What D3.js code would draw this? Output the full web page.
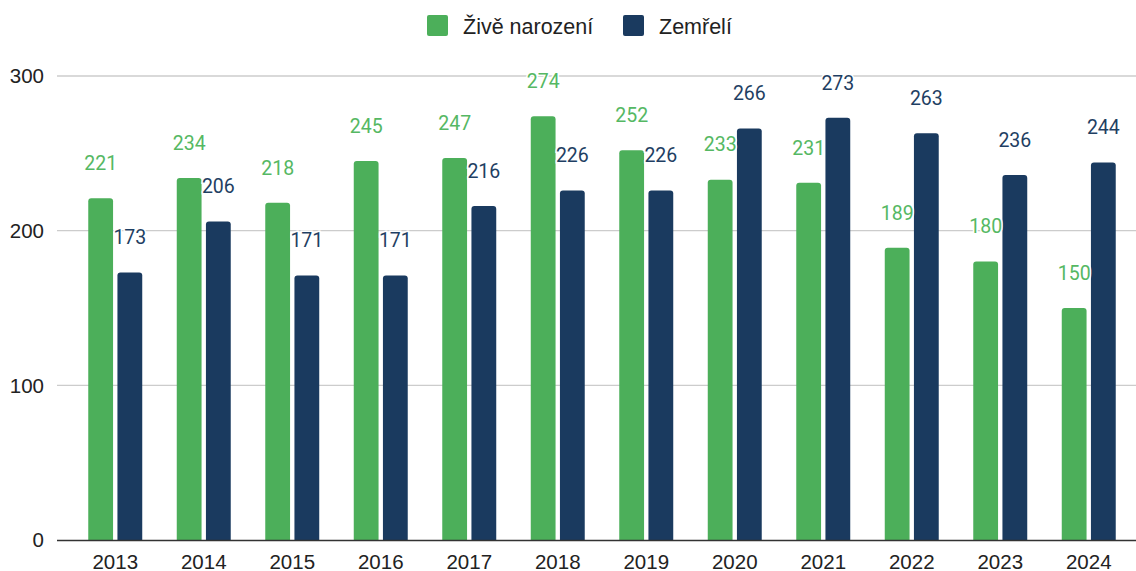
<!DOCTYPE html>
<html>
<head>
<meta charset="utf-8">
<script src="https://cdn.jsdelivr.net/npm/d3@7"></script>
<style>
  body { margin: 0; background: #fff; }
  text { font-family: "Liberation Sans", Arial, sans-serif; }
  text.val { font-family: Roboto, "Noto Sans", sans-serif; }
</style>
</head>
<body>
<script>
const width = 1136,
      height = 571;

// data
const years = ["2013", "2014", "2015", "2016", "2017", "2018", "2019", "2020", "2021", "2022", "2023", "2024"];
const births = [221, 234, 218, 245, 247, 274, 252, 233, 231, 189, 180, 150];
const deaths = [173, 206, 171, 171, 216, 226, 226, 266, 273, 263, 236, 244];
const seriesNames = ["Živě narození", "Zemřelí"];
const yTicks = [0, 100, 200, 300];

const colors = ["#4caf5a", "#1a3a5f"];
const labelColors = ["#55b863", "#1f3f63"];

const rows = years.map((y, i) => ({ year: y, values: [births[i], deaths[i]] }));

const svg = d3.select("body")
    .append("svg")
    .attr("width", width)
    .attr("height", height);

const x = d3.scaleBand()
    .domain(years)
    .range([71, 1133])
    .paddingInner(0.39)
    .paddingOuter(0.195);

const xs = d3.scaleBand()
    .domain([0, 1])
    .range([0, x.bandwidth()])
    .paddingInner(0.15);

const y = d3.scaleLinear()
    .domain([0, 300])
    .range([540, 76]);

// gridlines
svg.append("g")
    .selectAll("line")
    .data(yTicks.filter(d => d > 0))
    .enter().append("line")
    .attr("x1", 57)
    .attr("x2", width)
    .attr("y1", d => y(d))
    .attr("y2", d => y(d))
    .attr("stroke", "#cccccc")
    .attr("stroke-width", 1.3);

// y labels
svg.append("g")
    .selectAll("text")
    .data(yTicks)
    .enter().append("text")
    .attr("x", 44)
    .attr("y", d => y(d))
    .attr("dy", "0.35em")
    .attr("text-anchor", "end")
    .attr("font-size", 20.5)
    .attr("fill", "#222")
    .text(d => d);

// rounded-top bar path
const barPath = (x0, w, top, bottom, r) => {
  r = Math.min(r, (bottom - top));
  return `M${x0},${bottom}V${top + r}Q${x0},${top} ${x0 + r},${top}H${x0 + w - r}Q${x0 + w},${top} ${x0 + w},${top + r}V${bottom}Z`;
};

const groups = svg.append("g")
    .selectAll("g")
    .data(rows)
    .enter().append("g")
    .attr("transform", d => `translate(${x(d.year)},0)`);

groups.selectAll("path")
    .data(d => d.values.map((v, k) => ({ v, k })))
    .enter().append("path")
    .attr("d", d => barPath(xs(d.k), xs.bandwidth(), y(d.v), y(0), 3))
    .attr("fill", d => colors[d.k]);

// baseline
svg.append("line")
    .attr("x1", 57)
    .attr("x2", width)
    .attr("y1", y(0) + 0.5)
    .attr("y2", y(0) + 0.5)
    .attr("stroke", "#333")
    .attr("stroke-width", 1.3);

// value labels with white halo
groups.selectAll("text.val")
    .data(d => d.values.map((v, k) => ({ v, k })))
    .enter().append("text")
    .attr("class", "val")
    .attr("x", d => xs(d.k) + xs.bandwidth() / 2)
    .attr("y", d => y(d.v) - 35)
    .attr("dy", "0.35em")
    .attr("text-anchor", "middle")
    .attr("font-size", 19.5)
    .attr("fill", d => labelColors[d.k])
    .attr("stroke", "#fff")
    .attr("stroke-width", 3)
    .attr("paint-order", "stroke")
    .text(d => d.v);

// x labels
svg.append("g")
    .selectAll("text")
    .data(years)
    .enter().append("text")
    .attr("x", d => x(d) + x.bandwidth() / 2)
    .attr("y", 562)
    .attr("dy", "0.35em")
    .attr("text-anchor", "middle")
    .attr("font-size", 20.5)
    .attr("fill", "#222")
    .text(d => d);

// legend
const legendPos = [427, 623];
const legend = svg.append("g")
    .selectAll("g")
    .data(seriesNames)
    .enter().append("g")
    .attr("transform", (d, i) => `translate(${legendPos[i]},15)`);

legend.append("rect")
    .attr("width", 21)
    .attr("height", 21)
    .attr("rx", 2)
    .attr("fill", (d, i) => colors[i]);

legend.append("text")
    .attr("x", 36)
    .attr("y", 11)
    .attr("dy", "0.35em")
    .attr("font-size", 21.5)
    .attr("fill", "#222")
    .text(d => d);
</script>
</body>
</html>
